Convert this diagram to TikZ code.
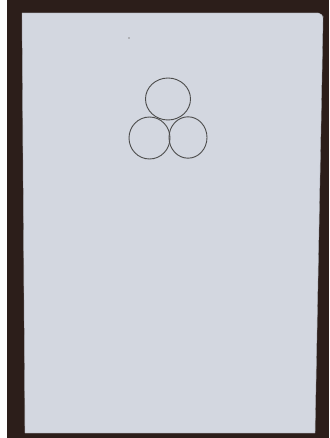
\documentclass[tikz,border=0pt]{standalone}
\usepackage{tikz}
\usetikzlibrary{calc}

\begin{document}
\begin{tikzpicture}[x=1pt, y=-1pt,
    pencil/.style={draw=black!70, line width=0.9pt},
    sheet/.style={fill=paper, draw=paper!80!black, line width=0.4pt}]
    % colours of the photo
    \definecolor{table}{RGB}{44,30,26}
    \definecolor{paper}{RGB}{211,215,224}

    % frame of the photo: 329 x 438 px, y pointing down
    \useasboundingbox (0,0) rectangle (329,438);
    \fill[white] (0,0) rectangle (329,438);
    \fill[table] (7,0) rectangle (329,438);

    % Sheet of paper (top right corner a bit rounded)
    \filldraw[sheet] (22,13) -- (318,13) [rounded corners=4pt] -- (323,14) -- (323,20) [sharp corners]
        -- (315,433) -- (25,433) -- cycle;

    % Speck near the top
    \fill[black!45] (129,38) circle (0.8);

    % Three pencil circles
    \draw[pencil] (168,99) ellipse (22.5 and 21);
    \draw[pencil] (149.5,138) ellipse (20.5 and 21);
    \draw[pencil] (188,137.5) ellipse (19 and 20.7);
\end{tikzpicture}
\end{document}
